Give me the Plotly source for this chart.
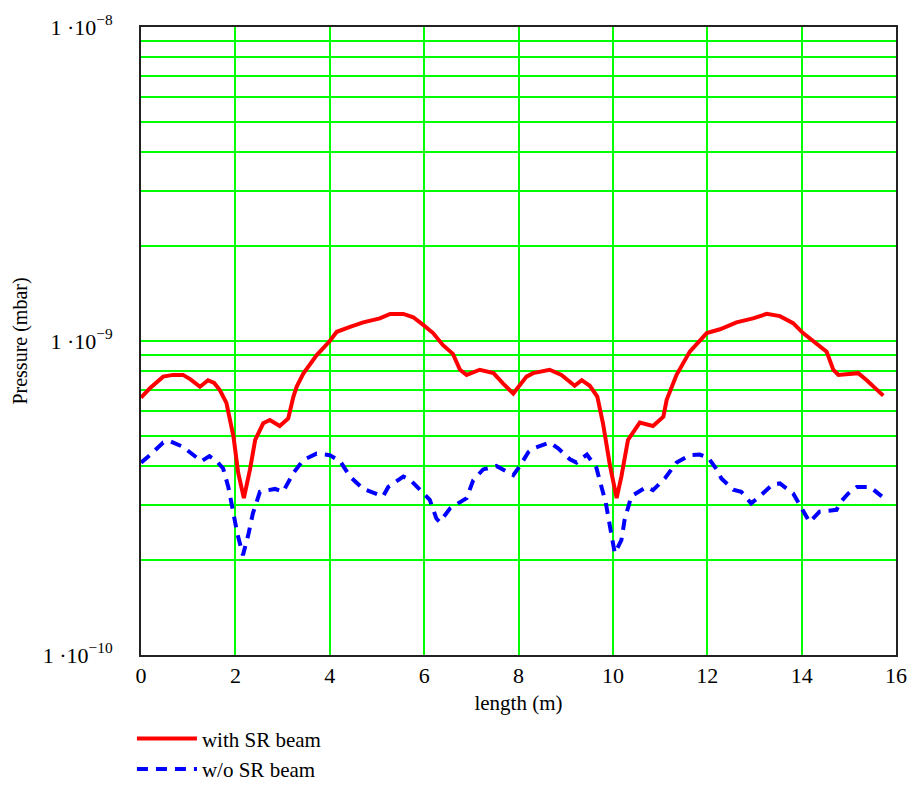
import plotly.graph_objects as go

# ---- data ----
x_sr = [0, 0.2, 0.47, 0.68, 0.89, 1.05, 1.25, 1.42, 1.55, 1.67, 1.81, 1.96, 2.06, 2.18, 2.31, 2.42,
        2.59, 2.73, 2.94, 3.12, 3.23, 3.30, 3.44, 3.72, 4.0, 4.15, 4.43, 4.71, 5.06, 5.28, 5.56,
        5.77, 5.98, 6.19, 6.40, 6.61, 6.76, 6.90, 7.18, 7.47, 7.68, 7.89, 8.17, 8.31, 8.66, 8.91,
        9.19, 9.34, 9.51, 9.67, 9.79, 9.94, 10.08, 10.18, 10.32, 10.57, 10.85, 11.07, 11.14, 11.35,
        11.63, 11.99, 12.27, 12.62, 12.97, 13.26, 13.54, 13.82, 14.03, 14.32, 14.53, 14.67, 14.78,
        15.2, 15.38, 15.73]
p_sr = [6.6e-10, 7.1e-10, 7.7e-10, 7.8e-10, 7.8e-10, 7.55e-10, 7.15e-10, 7.5e-10, 7.35e-10, 6.98e-10,
        6.35e-10, 4.96e-10, 3.8e-10, 3.16e-10, 3.9e-10, 4.84e-10, 5.47e-10, 5.6e-10, 5.36e-10, 5.67e-10,
        6.65e-10, 7.16e-10, 7.88e-10, 9.0e-10, 1.0e-9, 1.07e-9, 1.11e-9, 1.146e-9, 1.18e-9, 1.22e-9,
        1.22e-9, 1.19e-9, 1.125e-9, 1.06e-9, 9.7e-10, 9.1e-10, 8.1e-10, 7.8e-10, 8.1e-10, 7.9e-10,
        7.3e-10, 6.8e-10, 7.7e-10, 7.9e-10, 8.1e-10, 7.8e-10, 7.2e-10, 7.5e-10, 7.2e-10, 6.65e-10,
        5.47e-10, 4.0e-10, 3.16e-10, 3.7e-10, 4.84e-10, 5.5e-10, 5.36e-10, 5.74e-10, 6.5e-10, 7.8e-10,
        9.25e-10, 1.06e-9, 1.09e-9, 1.146e-9, 1.18e-9, 1.22e-9, 1.2e-9, 1.14e-9, 1.06e-9, 9.8e-10,
        9.25e-10, 8.1e-10, 7.8e-10, 7.9e-10, 7.5e-10, 6.7e-10]

x_nosr = [0.0, 0.19, 0.47, 0.61, 0.89, 1.07, 1.28, 1.45, 1.60, 1.74, 1.85, 1.96, 2.04, 2.16, 2.27, 2.37,
          2.52, 2.84, 3.01, 3.23, 3.44, 3.72, 4.0, 4.22, 4.43, 4.71, 4.99, 5.13, 5.24, 5.56, 5.70,
          5.98, 6.12, 6.26, 6.33, 6.55, 6.90, 7.04, 7.25, 7.53, 7.89, 8.03, 8.21, 8.31, 8.66, 8.84,
          9.09, 9.23, 9.45, 9.65, 9.72, 9.85, 9.94, 10.04, 10.18, 10.25, 10.39, 10.71, 10.85, 11.10,
          11.35, 11.63, 11.84, 12.02, 12.20, 12.30, 12.55, 12.72, 12.93, 13.11, 13.39, 13.54, 13.82,
          13.92, 14.07, 14.17, 14.38, 14.74, 14.81, 14.99, 15.17, 15.45, 15.70]
p_nosr = [4.1e-10, 4.33e-10, 4.75e-10, 4.8e-10, 4.6e-10, 4.38e-10, 4.14e-10, 4.3e-10, 4.15e-10, 3.93e-10,
          3.43e-10, 2.82e-10, 2.44e-10, 2.08e-10, 2.4e-10, 2.82e-10, 3.31e-10, 3.38e-10, 3.31e-10, 3.8e-10,
          4.18e-10, 4.38e-10, 4.33e-10, 4.14e-10, 3.7e-10, 3.38e-10, 3.27e-10, 3.2e-10, 3.43e-10, 3.7e-10,
          3.62e-10, 3.27e-10, 3.12e-10, 2.72e-10, 2.65e-10, 2.93e-10, 3.16e-10, 3.6e-10, 3.9e-10, 4.0e-10,
          3.74e-10, 4.0e-10, 4.43e-10, 4.55e-10, 4.75e-10, 4.55e-10, 4.2e-10, 4.1e-10, 4.35e-10, 3.95e-10,
          3.6e-10, 3.05e-10, 2.56e-10, 2.11e-10, 2.32e-10, 2.7e-10, 3.2e-10, 3.43e-10, 3.35e-10, 3.65e-10,
          4.1e-10, 4.33e-10, 4.35e-10, 4.25e-10, 3.9e-10, 3.65e-10, 3.36e-10, 3.31e-10, 3.04e-10, 3.2e-10,
          3.5e-10, 3.52e-10, 3.27e-10, 3.08e-10, 2.79e-10, 2.65e-10, 2.86e-10, 2.9e-10, 3.05e-10, 3.27e-10,
          3.43e-10, 3.43e-10, 3.2e-10]

series_names = ["with SR beam", "w/o SR beam"]
x_ticks = [0, 2, 4, 6, 8, 10, 12, 14, 16]
y_major = [1e-10, 1e-9, 1e-8]
y_major_text = ["1 \u00b710<sup>\u221210</sup>", "1 \u00b710<sup>\u22129</sup>", "1 \u00b710<sup>\u22128</sup>"]
y_minor_mult = [2, 3, 4, 5, 6, 7, 8, 9]
x_title = "length (m)"
y_title = "Pressure (mbar)"

y_minor = [m * dec for dec in y_major[:2] for m in y_minor_mult]

FONT = "Liberation Serif"

fig = go.Figure()
fig.add_trace(go.Scatter(x=x_sr, y=p_sr, mode="lines", name=series_names[0],
                         line=dict(color="#ff0000", width=4)))
fig.add_trace(go.Scatter(x=x_nosr, y=p_nosr, mode="lines", name=series_names[1],
                         line=dict(color="#0000ff", width=4, dash="11px,8px")))

fig.add_shape(type="line", xref="x domain", x0=0, x1=1, yref="y", y0=1e-9, y1=1e-9,
              line=dict(color="black", width=1.5), layer="below")

fig.update_layout(
    width=916, height=785,
    margin=dict(l=141, r=20, t=27, b=130, autoexpand=False),
    paper_bgcolor="white", plot_bgcolor="white",
    font=dict(family=FONT, size=20, color="black"),
    showlegend=True,
    legend=dict(x=-0.012, y=-0.101, xanchor="left", yanchor="top",
                bgcolor="rgba(0,0,0,0)", font=dict(family=FONT, size=21),
                traceorder="normal", tracegroupgap=0, itemwidth=60),
    xaxis=dict(range=[0, 16], tickvals=x_ticks, showgrid=True, gridcolor="#00ff00", gridwidth=1.5,
               zeroline=False, showline=True, linecolor="#222", linewidth=2, mirror=True,
               ticks="", tickfont=dict(family=FONT, size=22),
               title=dict(text=x_title, font=dict(family=FONT, size=21), standoff=8)),
    yaxis=dict(type="log", range=[-10, -8], tickvals=y_major, ticktext=y_major_text,
               showgrid=True, gridcolor="#00ff00", gridwidth=1.5, zeroline=False,
               minor=dict(tickvals=y_minor, showgrid=True, gridcolor="#00ff00", gridwidth=1.5, ticks=""),
               showline=True, linecolor="#222", linewidth=2, mirror=True, ticks="",
               ticklabelstandoff=22, tickfont=dict(family=FONT, size=22),
               title=dict(text=y_title, font=dict(family=FONT, size=20), standoff=10)),
)

fig.write_html("out.html")
